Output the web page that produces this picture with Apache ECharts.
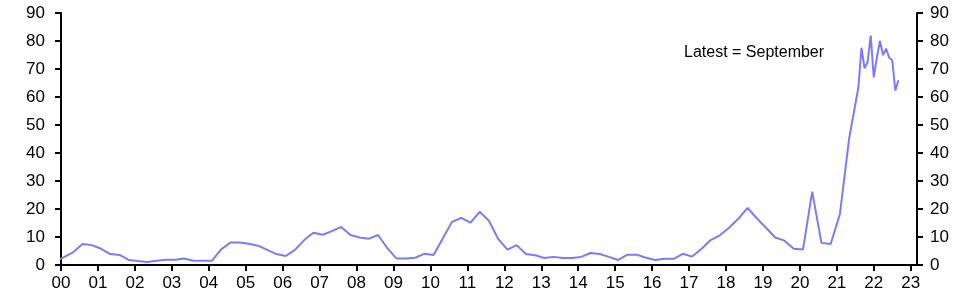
<!DOCTYPE html>
<html><head><meta charset="utf-8">
<script src="https://cdn.jsdelivr.net/npm/echarts@6/dist/echarts.min.js"></script>
<style>html,body{margin:0;padding:0;background:#fff}#c{width:962px;height:302px}</style>
</head><body><div id="c"></div>
<script>
// Quarterly observations (plotted at the middle month of each quarter)
var quarterLabels = [
  "1999Q4",
  "2000Q1","2000Q2","2000Q3","2000Q4",
  "2001Q1","2001Q2","2001Q3","2001Q4",
  "2002Q1","2002Q2","2002Q3","2002Q4",
  "2003Q1","2003Q2","2003Q3","2003Q4",
  "2004Q1","2004Q2","2004Q3","2004Q4",
  "2005Q1","2005Q2","2005Q3","2005Q4",
  "2006Q1","2006Q2","2006Q3","2006Q4",
  "2007Q1","2007Q2","2007Q3","2007Q4",
  "2008Q1","2008Q2","2008Q3","2008Q4",
  "2009Q1","2009Q2","2009Q3","2009Q4",
  "2010Q1","2010Q2","2010Q3","2010Q4",
  "2011Q1","2011Q2","2011Q3","2011Q4",
  "2012Q1","2012Q2","2012Q3","2012Q4",
  "2013Q1","2013Q2","2013Q3","2013Q4",
  "2014Q1","2014Q2","2014Q3","2014Q4",
  "2015Q1","2015Q2","2015Q3","2015Q4",
  "2016Q1","2016Q2","2016Q3","2016Q4",
  "2017Q1","2017Q2","2017Q3","2017Q4",
  "2018Q1","2018Q2","2018Q3","2018Q4",
  "2019Q1","2019Q2","2019Q3","2019Q4",
  "2020Q1","2020Q2","2020Q3","2020Q4",
  "2021Q1","2021Q2","2021Q3"
];
var quarterValues = [
  1.2,
  2.8, 4.6, 7.5, 7.1,
  5.8, 3.9, 3.6, 1.8,
  1.4, 1.1, 1.5, 1.9,
  1.9, 2.3, 1.5, 1.5,
  1.5, 5.6, 8.0, 8.0,
  7.6, 6.9, 5.4, 3.9,
  3.2, 5.4, 8.9, 11.5,
  10.8, 12.1, 13.6, 10.7,
  9.8, 9.4, 10.7, 6.0,
  2.3, 2.3, 2.6, 4.0,
  3.6, 9.5, 15.4, 16.8,
  15.1, 19.0, 15.8, 9.3,
  5.5, 7.1, 3.9, 3.5,
  2.5, 2.9, 2.5, 2.5,
  2.9, 4.3, 3.9, 2.9,
  1.8, 3.7, 3.7, 2.6,
  1.8, 2.2, 2.2, 4.0,
  3.0, 5.7, 8.9, 10.6,
  13.3, 16.5, 20.4, 16.7,
  13.3, 9.8, 8.7, 5.8,
  5.5, 26.2, 7.9, 7.5,
  18.2, 45.2, 63.4
];
// Monthly observations
var monthLabels = ["2021-09","2021-10","2021-11","2021-12","2022-01","2022-02","2022-03","2022-04","2022-05","2022-06","2022-07","2022-08","2022-09"];
var monthValues = [77.6, 70.2, 72.5, 81.9, 67.0, 74.0, 80.0, 75.0, 77.3, 74.0, 73.2, 62.3, 66.0];

var yearTicks = [2000,2001,2002,2003,2004,2005,2006,2007,2008,2009,2010,2011,2012,2013,2014,2015,2016,2017,2018,2019,2020,2021,2022,2023];
var tickLabels = ["00","01","02","03","04","05","06","07","08","09","10","11","12","13","14","15","16","17","18","19","20","21","22","23"];
var annotation = "Latest = September";

function quarterToYear(s){ var y = +s.slice(0,4), q = +s.slice(5); return y + (q-1)/4 + 1/12; }
function monthToYear(s){ var y = +s.slice(0,4), m = +s.slice(5); return y + (m-1)/12; }

var seriesData = [];
quarterLabels.forEach(function(l,i){ seriesData.push([quarterToYear(l), quarterValues[i]]); });
monthLabels.forEach(function(l,i){ seriesData.push([monthToYear(l), monthValues[i]]); });

var FONT = 'Arial, "Liberation Sans", sans-serif';
var axisCommon = {
  type:'value', min:0, max:90, interval:10,
  axisLine:{show:true, onZero:false, lineStyle:{color:'#000', width:2}},
  axisTick:{show:true, length:6, lineStyle:{color:'#000', width:2}},
  splitLine:{show:false},
  axisLabel:{color:'#000', fontSize:17, fontFamily:FONT}
};
var chart = echarts.init(document.getElementById('c'), null, {renderer:'canvas'});
chart.setOption({
  animation:false,
  backgroundColor:'#fff',
  grid:{left:61, right:45, top:13, bottom:37, containLabel:false},
  xAxis:{
    type:'value', min:2000, max:2023.17,
    axisLine:{show:true, onZero:false, lineStyle:{color:'#000', width:2}},
    axisTick:{show:true, length:6, customValues:yearTicks, lineStyle:{color:'#000', width:2}},
    splitLine:{show:false},
    axisLabel:{customValues:yearTicks, color:'#000', fontSize:17, fontFamily:FONT, margin:10,
      formatter:function(v){ var i = yearTicks.indexOf(Math.round(v)); return i>=0 ? tickLabels[i] : ''; }}
  },
  yAxis:[
    echarts.util.merge({position:'left', axisLabel:{margin:16}}, echarts.util.clone(axisCommon), false),
    echarts.util.merge({position:'right', axisLabel:{margin:13}}, echarts.util.clone(axisCommon), false)
  ],
  series:[{
    type:'line', data:seriesData, yAxisIndex:0, showSymbol:false, clip:true,
    lineStyle:{color:'#7B7BF5', width:2}, itemStyle:{color:'#7B7BF5'}
  }],
  graphic:[{
    type:'text', left:684, top:45,
    style:{text:annotation, fill:'#000', font:'16px ' + FONT}
  }]
});
</script></body></html>
